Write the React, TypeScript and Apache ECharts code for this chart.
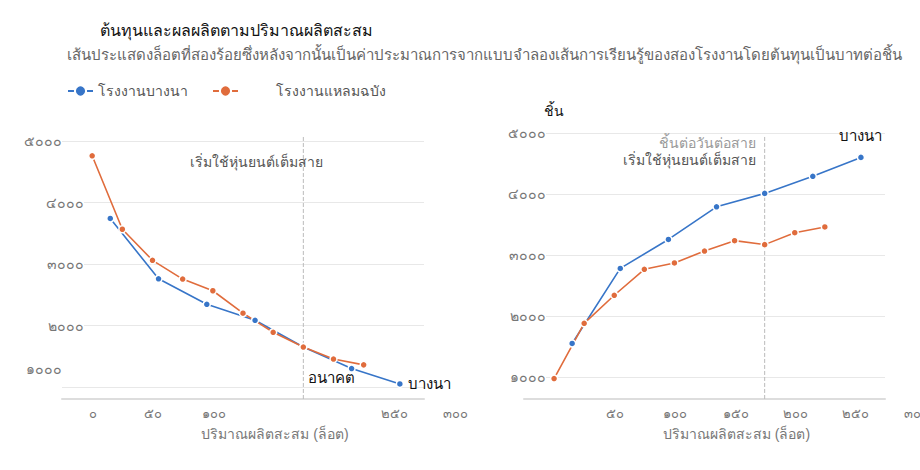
import { useEffect, useRef } from "react";
import * as echarts from "echarts";

const TITLE = "ต้นทุนและผลผลิตตามปริมาณผลิตสะสม";
const SUBTITLE =
  "เส้นประแสดงล็อตที่สองร้อยซึ่งหลังจากนั้นเป็นค่าประมาณการจากแบบจำลองเส้นการเรียนรู้ของสองโรงงานโดยต้นทุนเป็นบาทต่อชิ้น";
const PLANT_A = "โรงงานบางนา";
const PLANT_B = "โรงงานแหลมฉบัง";
const END_A = "บางนา";
const X_NAME = "ปริมาณผลิตสะสม (ล็อต)";
const OUTPUT_NAME = "ชิ้น";
const NOTE_LEFT = "เริ่มใช้หุ่นยนต์เต็มสาย";
const NOTE_RIGHT_1 = "ชิ้นต่อวันต่อสาย";
const NOTE_RIGHT_2 = "เริ่มใช้หุ่นยนต์เต็มสาย";
const FORECAST = "อนาคต";
const CUTOFF = "ล็อตที่สองร้อย";

// x ticks (lots) and their labels, blank where the reference shows none
const X_TICKS = [0, 50, 100, 150, 200, 250, 300];
const COST_X_LABELS = ["๐", "๕๐", "๑๐๐", "", "", "๒๕๐", "๓๐๐"];
const OUTPUT_X_LABELS = ["", "๕๐", "๑๐๐", "๑๕๐", "๒๐๐", "๒๕๐", "๓๐๐"];
const Y_TICKS = [1000, 2000, 3000, 4000, 5000];
const Y_LABELS = ["๑๐๐๐", "๒๐๐๐", "๓๐๐๐", "๔๐๐๐", "๕๐๐๐"];

const A_LOTS = [40, 80, 120, 160, 200, 240, 280];
const B_LOTS = [25, 50, 75, 100, 125, 150, 175, 200, 225, 250];
const COST_A = [3740, 2760, 2345, 2085, 1650, 1300, 1050];
const COST_B = [4760, 3565, 3060, 2755, 2565, 2200, 1890, 1650, 1455, 1360];
const OUTPUT_A = [1550, 2780, 3255, 3790, 4010, 4290, 4600];
const OUTPUT_B = [975, 1880, 2340, 2765, 2870, 3065, 3235, 3170, 3365, 3460];

// dashed cut-off line at lot 200, drawn from the axis line to the top
const CUTOFF_LOTS = [200, 200];
const COST_CUTOFF = [805, 5080];
const OUTPUT_CUTOFF = [640, 4950];

const BLUE = "#3775c8";
const ORANGE = "#e06c3c";

const pairs = (xs: number[], ys: number[]) => xs.map((x, i) => [x, ys[i]]);
const xLabel = (labels: string[]) => (v: number) => labels[X_TICKS.indexOf(v)] ?? "";

function xAxis(gridIndex: number, labels: string[], offset: number) {
  return {
    gridIndex,
    type: "value",
    min: 0,
    max: 300,
    interval: 50,
    offset,
    name: X_NAME,
    nameLocation: "middle",
    nameGap: 28,
    nameTextStyle: { color: "#777", fontSize: 14, padding: [0, 0, 0, 64] },
    axisLine: { show: true, lineStyle: { color: "#ddd", width: 2 } },
    axisTick: { show: false },
    splitLine: { show: false },
    axisLabel: {
      color: "#777",
      fontSize: 13,
      padding: [0, 0, 0, 62],
      showMinLabel: true,
      showMaxLabel: true,
      formatter: xLabel(labels),
    },
  };
}

function yAxis(gridIndex: number, edgeStyle: boolean, name?: string) {
  return {
    gridIndex,
    type: "value",
    min: 1000,
    max: 5000,
    interval: 1000,
    name,
    nameLocation: "end",
    nameGap: 15,
    nameTextStyle: { color: "#111", fontSize: 14, padding: [0, 0, 0, 59] },
    axisLine: { show: false },
    axisTick: { show: false },
    splitLine: { lineStyle: { color: "#e8e8e8" } },
    axisLabel: {
      color: "#777",
      fontSize: 14,
      margin: -22,
      showMinLabel: true,
      showMaxLabel: true,
      formatter: (v: number) => {
        const i = Y_TICKS.indexOf(v);
        const t = Y_LABELS[i] ?? "";
        if (edgeStyle && i === 0) return `{lo|${t}}`;
        if (edgeStyle && i === Y_TICKS.length - 1) return `{hi|${t}}`;
        return `{mid|${t}}`;
      },
      rich: {
        mid: { backgroundColor: "#fff", color: "#777", fontSize: 14 },
        hi: { padding: [0, 22, 0, 0], color: "#777", fontSize: 14 },
        lo: { padding: [0, 22, 36, 0], color: "#777", fontSize: 14 },
      },
    },
  };
}

const lineStyle = (color: string) => ({
  type: "line",
  symbol: "circle",
  symbolSize: 7,
  clip: false,
  z: 3,
  lineStyle: { color, width: 1.6 },
  itemStyle: { color, borderColor: "#fff", borderWidth: 1.5 },
});

const cutoff = (axis: number, ys: number[]) => ({
  type: "line",
  name: CUTOFF,
  xAxisIndex: axis,
  yAxisIndex: axis,
  data: pairs(CUTOFF_LOTS, ys),
  symbol: "none",
  silent: true,
  clip: false,
  z: 1,
  lineStyle: { color: "#bbb", type: "dashed", width: 1 },
});

export default function App() {
  const ref = useRef<HTMLDivElement>(null);

  useEffect(() => {
    document.body.style.margin = "0";
    if (!ref.current) return;
    const chart = echarts.init(ref.current, undefined, { renderer: "svg" });

    chart.setOption({
      animation: false,
      textStyle: { fontFamily: "sans-serif" },
      title: [
        {
          text: TITLE,
          left: 95,
          top: 17,
          textStyle: { color: "#111", fontSize: 16, fontWeight: "normal" },
        },
        {
          text: SUBTITLE,
          left: 62,
          top: 42,
          textStyle: { color: "#666", fontSize: 15, fontWeight: "normal" },
        },
      ],
      legend: {
        left: 62,
        top: 79,
        itemGap: 24,
        textStyle: { color: "#555", fontSize: 14 },
        data: [
          { name: PLANT_A },
          { name: PLANT_B, textStyle: { padding: [0, 0, 0, 33] } },
        ],
      },
      grid: [
        { left: 62, right: 496, top: 141, bottom: 83, outerBoundsMode: "none" },
        { left: 524, right: 35, top: 133, bottom: 93, outerBoundsMode: "none" },
      ],
      xAxis: [xAxis(0, COST_X_LABELS, 12), xAxis(1, OUTPUT_X_LABELS, 22)],
      yAxis: [yAxis(0, true), yAxis(1, false, OUTPUT_NAME)],
      series: [
        cutoff(0, COST_CUTOFF),
        cutoff(1, OUTPUT_CUTOFF),
        {
          ...lineStyle(BLUE),
          name: PLANT_A,
          xAxisIndex: 0,
          yAxisIndex: 0,
          data: pairs(A_LOTS, COST_A),
          endLabel: {
            show: true,
            formatter: END_A,
            color: "#111",
            fontSize: 15,
            distance: 8,
          },
          markPoint: {
            symbolSize: 0,
            silent: true,
            data: [
              {
                coord: [161, 4660],
                label: { show: true, position: "inside", formatter: NOTE_LEFT, color: "#555", fontSize: 14 },
              },
              {
                coord: [223, 1150],
                label: { show: true, position: "inside", formatter: FORECAST, color: "#111", fontSize: 15 },
              },
            ],
          },
        },
        {
          ...lineStyle(ORANGE),
          name: PLANT_B,
          xAxisIndex: 0,
          yAxisIndex: 0,
          data: pairs(B_LOTS, COST_B),
        },
        {
          ...lineStyle(BLUE),
          name: PLANT_A,
          xAxisIndex: 1,
          yAxisIndex: 1,
          data: pairs(A_LOTS, OUTPUT_A),
          endLabel: {
            show: true,
            formatter: END_A,
            color: "#111",
            fontSize: 15,
            distance: 0,
            align: "center",
            offset: [0, -22],
          },
        },
        {
          ...lineStyle(ORANGE),
          name: PLANT_B,
          xAxisIndex: 1,
          yAxisIndex: 1,
          data: pairs(B_LOTS, OUTPUT_B),
          markPoint: {
            symbolSize: 0,
            silent: true,
            data: [
              {
                coord: [200, 4700],
                label: {
                  show: true,
                  position: "left",
                  distance: 9,
                  align: "right",
                  formatter: `{a|${NOTE_RIGHT_1}}\n{b|${NOTE_RIGHT_2}}`,
                  rich: {
                    a: { color: "#999", fontSize: 14, lineHeight: 17 },
                    b: { color: "#555", fontSize: 14, lineHeight: 17 },
                  },
                },
              },
            ],
          },
        },
      ],
    });

    return () => chart.dispose();
  }, []);

  return <div ref={ref} style={{ width: 920, height: 470 }} />;
}
